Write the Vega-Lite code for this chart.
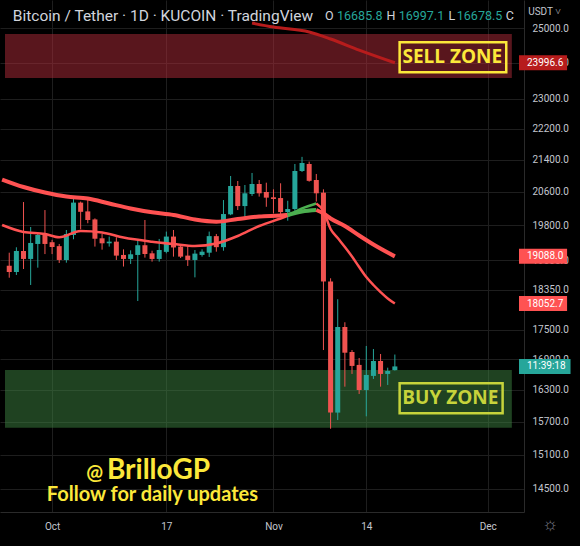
{
  "$schema": "https://vega.github.io/schema/vega-lite/v6.json",
  "width": 524,
  "height": 512,
  "autosize": {"type": "none"},
  "padding": {"left": 0, "top": 0, "right": 56, "bottom": 34},
  "background": "#000000",
  "config": {
    "view": {"stroke": null},
    "axis": {"domainColor": "#2a2a2a", "gridColor": "#1e1e1e", "labelColor": "#c3c6ce", "labelFont": "Roboto", "labelFontSize": 10, "ticks": false, "title": null, "labelOverlap": false}
  },
  "resolve": {"scale": {"fill": "independent", "stroke": "independent", "color": "independent", "size": "independent"}},
  "datasets": {
    "candles": [
      {"d": "2022-09-25", "o": 18876, "h": 19171, "l": 18613, "c": 18740},
      {"d": "2022-09-26", "o": 18740, "h": 19294, "l": 18673, "c": 19210},
      {"d": "2022-09-27", "o": 19210, "h": 20354, "l": 18805, "c": 19030},
      {"d": "2022-09-28", "o": 19030, "h": 19762, "l": 18453, "c": 19393},
      {"d": "2022-09-29", "o": 19370, "h": 19617, "l": 18835, "c": 19577},
      {"d": "2022-09-30", "o": 19577, "h": 20162, "l": 19140, "c": 19370},
      {"d": "2022-10-01", "o": 19410, "h": 19465, "l": 19140, "c": 19300},
      {"d": "2022-10-02", "o": 19320, "h": 19370, "l": 18940, "c": 19007},
      {"d": "2022-10-03", "o": 19007, "h": 19692, "l": 18946, "c": 19600},
      {"d": "2022-10-04", "o": 19577, "h": 20450, "l": 19478, "c": 20340},
      {"d": "2022-10-05", "o": 20340, "h": 20365, "l": 19708, "c": 20120},
      {"d": "2022-10-06", "o": 20130, "h": 20402, "l": 19850, "c": 19926},
      {"d": "2022-10-07", "o": 19940, "h": 19965, "l": 19310, "c": 19490},
      {"d": "2022-10-08", "o": 19500, "h": 19600, "l": 19240, "c": 19385},
      {"d": "2022-10-09", "o": 19385, "h": 19540, "l": 19310, "c": 19423},
      {"d": "2022-10-10", "o": 19423, "h": 19525, "l": 19007, "c": 19105},
      {"d": "2022-10-11", "o": 19120, "h": 19247, "l": 18860, "c": 19030},
      {"d": "2022-10-12", "o": 19030, "h": 19225, "l": 18918, "c": 19135},
      {"d": "2022-10-13", "o": 19120, "h": 19480, "l": 18107, "c": 19341},
      {"d": "2022-10-14", "o": 19341, "h": 19926, "l": 19060, "c": 19142},
      {"d": "2022-10-15", "o": 19157, "h": 19216, "l": 18970, "c": 19030},
      {"d": "2022-10-16", "o": 19030, "h": 19485, "l": 18970, "c": 19232},
      {"d": "2022-10-17", "o": 19190, "h": 19655, "l": 19157, "c": 19540},
      {"d": "2022-10-18", "o": 19540, "h": 19692, "l": 19082, "c": 19290},
      {"d": "2022-10-19", "o": 19310, "h": 19347, "l": 19050, "c": 19082},
      {"d": "2022-10-20", "o": 19105, "h": 19347, "l": 18873, "c": 19007},
      {"d": "2022-10-21", "o": 19007, "h": 19232, "l": 18620, "c": 19150},
      {"d": "2022-10-22", "o": 19120, "h": 19247, "l": 19082, "c": 19194},
      {"d": "2022-10-23", "o": 19171, "h": 19655, "l": 19075, "c": 19550},
      {"d": "2022-10-24", "o": 19550, "h": 19600, "l": 19194, "c": 19297},
      {"d": "2022-10-25", "o": 19297, "h": 20402, "l": 19216, "c": 20067},
      {"d": "2022-10-26", "o": 20060, "h": 20990, "l": 20040, "c": 20743},
      {"d": "2022-10-27", "o": 20743, "h": 20866, "l": 20162, "c": 20257},
      {"d": "2022-10-28", "o": 20257, "h": 20768, "l": 19956, "c": 20565},
      {"d": "2022-10-29", "o": 20548, "h": 21065, "l": 20500, "c": 20793},
      {"d": "2022-10-30", "o": 20793, "h": 20891, "l": 20485, "c": 20565},
      {"d": "2022-10-31", "o": 20597, "h": 20825, "l": 20240, "c": 20460},
      {"d": "2022-11-01", "o": 20468, "h": 20662, "l": 20082, "c": 20428},
      {"d": "2022-11-02", "o": 20450, "h": 20810, "l": 20060, "c": 20114},
      {"d": "2022-11-03", "o": 20114, "h": 20385, "l": 19910, "c": 20186},
      {"d": "2022-11-04", "o": 20186, "h": 21290, "l": 20138, "c": 21114},
      {"d": "2022-11-05", "o": 21114, "h": 21470, "l": 21090, "c": 21315},
      {"d": "2022-11-06", "o": 21290, "h": 21350, "l": 20850, "c": 20870},
      {"d": "2022-11-07", "o": 20891, "h": 21040, "l": 20365, "c": 20565},
      {"d": "2022-11-08", "o": 20580, "h": 20662, "l": 17088, "c": 18530},
      {"d": "2022-11-09", "o": 18530, "h": 18600, "l": 15570, "c": 15870},
      {"d": "2022-11-10", "o": 15870, "h": 18145, "l": 15731, "c": 17560},
      {"d": "2022-11-11", "o": 17560, "h": 17658, "l": 16364, "c": 17034},
      {"d": "2022-11-12", "o": 17048, "h": 17088, "l": 16612, "c": 16770},
      {"d": "2022-11-13", "o": 16790, "h": 16928, "l": 16223, "c": 16300},
      {"d": "2022-11-14", "o": 16300, "h": 17170, "l": 15800, "c": 16592},
      {"d": "2022-11-15", "o": 16573, "h": 17108, "l": 16514, "c": 16868},
      {"d": "2022-11-16", "o": 16868, "h": 17008, "l": 16364, "c": 16612},
      {"d": "2022-11-17", "o": 16612, "h": 16735, "l": 16397, "c": 16670},
      {"d": "2022-11-18", "o": 16685.8, "h": 16997.1, "l": 16678.5, "c": 16760}
    ],
    "ma": [
      {"ma": "ma200", "seg": "m1", "trend": "m", "d": "2022-10-29", "v": 25149},
      {"ma": "ma200", "seg": "m1", "trend": "m", "d": "2022-11-01", "v": 25030},
      {"ma": "ma200", "seg": "m1", "trend": "m", "d": "2022-11-06", "v": 24883},
      {"ma": "ma200", "seg": "m1", "trend": "m", "d": "2022-11-09", "v": 24678},
      {"ma": "ma200", "seg": "m1", "trend": "m", "d": "2022-11-13", "v": 24359},
      {"ma": "ma200", "seg": "m1", "trend": "m", "d": "2022-11-18", "v": 23996.6},
      {"ma": "slow", "seg": "s1", "trend": "dn", "d": "2022-09-24", "v": 20903},
      {"ma": "slow", "seg": "s1", "trend": "dn", "d": "2022-09-27", "v": 20719},
      {"ma": "slow", "seg": "s1", "trend": "dn", "d": "2022-09-30", "v": 20585},
      {"ma": "slow", "seg": "s1", "trend": "dn", "d": "2022-10-03", "v": 20487},
      {"ma": "slow", "seg": "s1", "trend": "dn", "d": "2022-10-06", "v": 20439},
      {"ma": "slow", "seg": "s1", "trend": "dn", "d": "2022-10-09", "v": 20318},
      {"ma": "slow", "seg": "s1", "trend": "dn", "d": "2022-10-12", "v": 20199},
      {"ma": "slow", "seg": "s1", "trend": "dn", "d": "2022-10-15", "v": 20108},
      {"ma": "slow", "seg": "s1", "trend": "dn", "d": "2022-10-18", "v": 20045},
      {"ma": "slow", "seg": "s1", "trend": "dn", "d": "2022-10-21", "v": 19938},
      {"ma": "slow", "seg": "s1", "trend": "dn", "d": "2022-10-24", "v": 19887},
      {"ma": "slow", "seg": "s1", "trend": "dn", "d": "2022-10-27", "v": 19950},
      {"ma": "slow", "seg": "s1", "trend": "dn", "d": "2022-10-30", "v": 20010},
      {"ma": "slow", "seg": "s1", "trend": "dn", "d": "2022-11-02", "v": 20032},
      {"ma": "slow", "seg": "s1", "trend": "dn", "d": "2022-11-03", "v": 20045},
      {"ma": "slow", "seg": "s2", "trend": "up", "d": "2022-11-03", "v": 20045},
      {"ma": "slow", "seg": "s2", "trend": "up", "d": "2022-11-05", "v": 20127},
      {"ma": "slow", "seg": "s2", "trend": "up", "d": "2022-11-07", "v": 20163},
      {"ma": "slow", "seg": "s3", "trend": "dn", "d": "2022-11-07", "v": 20163},
      {"ma": "slow", "seg": "s3", "trend": "dn", "d": "2022-11-08", "v": 20080},
      {"ma": "slow", "seg": "s3", "trend": "dn", "d": "2022-11-09", "v": 19962},
      {"ma": "slow", "seg": "s3", "trend": "dn", "d": "2022-11-11", "v": 19786},
      {"ma": "slow", "seg": "s3", "trend": "dn", "d": "2022-11-13", "v": 19565},
      {"ma": "slow", "seg": "s3", "trend": "dn", "d": "2022-11-15", "v": 19358},
      {"ma": "slow", "seg": "s3", "trend": "dn", "d": "2022-11-18", "v": 19088},
      {"ma": "fast", "seg": "f1", "trend": "dn", "d": "2022-09-24", "v": 19809},
      {"ma": "fast", "seg": "f1", "trend": "dn", "d": "2022-09-27", "v": 19646},
      {"ma": "fast", "seg": "f1", "trend": "dn", "d": "2022-09-30", "v": 19600},
      {"ma": "fast", "seg": "f1", "trend": "dn", "d": "2022-10-02", "v": 19523},
      {"ma": "fast", "seg": "f1", "trend": "dn", "d": "2022-10-05", "v": 19669},
      {"ma": "fast", "seg": "f1", "trend": "dn", "d": "2022-10-08", "v": 19634},
      {"ma": "fast", "seg": "f1", "trend": "dn", "d": "2022-10-11", "v": 19518},
      {"ma": "fast", "seg": "f1", "trend": "dn", "d": "2022-10-15", "v": 19422},
      {"ma": "fast", "seg": "f1", "trend": "dn", "d": "2022-10-18", "v": 19369},
      {"ma": "fast", "seg": "f1", "trend": "dn", "d": "2022-10-21", "v": 19324},
      {"ma": "fast", "seg": "f1", "trend": "dn", "d": "2022-10-24", "v": 19381},
      {"ma": "fast", "seg": "f1", "trend": "dn", "d": "2022-10-27", "v": 19553},
      {"ma": "fast", "seg": "f1", "trend": "dn", "d": "2022-10-30", "v": 19786},
      {"ma": "fast", "seg": "f1", "trend": "dn", "d": "2022-11-02", "v": 19962},
      {"ma": "fast", "seg": "f1", "trend": "dn", "d": "2022-11-03", "v": 20022},
      {"ma": "fast", "seg": "f2", "trend": "up", "d": "2022-11-03", "v": 20022},
      {"ma": "fast", "seg": "f2", "trend": "up", "d": "2022-11-05", "v": 20199},
      {"ma": "fast", "seg": "f2", "trend": "up", "d": "2022-11-07", "v": 20318},
      {"ma": "fast", "seg": "f3", "trend": "dn", "d": "2022-11-07", "v": 20318},
      {"ma": "fast", "seg": "f3", "trend": "dn", "d": "2022-11-08", "v": 20139},
      {"ma": "fast", "seg": "f3", "trend": "dn", "d": "2022-11-09", "v": 19716},
      {"ma": "fast", "seg": "f3", "trend": "dn", "d": "2022-11-10", "v": 19507},
      {"ma": "fast", "seg": "f3", "trend": "dn", "d": "2022-11-11", "v": 19301},
      {"ma": "fast", "seg": "f3", "trend": "dn", "d": "2022-11-12", "v": 19085},
      {"ma": "fast", "seg": "f3", "trend": "dn", "d": "2022-11-13", "v": 18850},
      {"ma": "fast", "seg": "f3", "trend": "dn", "d": "2022-11-14", "v": 18628},
      {"ma": "fast", "seg": "f3", "trend": "dn", "d": "2022-11-15", "v": 18453},
      {"ma": "fast", "seg": "f3", "trend": "dn", "d": "2022-11-16", "v": 18300},
      {"ma": "fast", "seg": "f3", "trend": "dn", "d": "2022-11-17", "v": 18161},
      {"ma": "fast", "seg": "f3", "trend": "dn", "d": "2022-11-18", "v": 18052.7}
    ],
    "zones": [
      {"z": "sell", "d": "2022-09-24T09:45:00Z", "d2": "2022-12-04T09:10:00Z", "v": 24825, "v2": 23567},
      {"z": "buy", "d": "2022-09-24T09:45:00Z", "d2": "2022-12-04T09:10:00Z", "v": 16690, "v2": 15589}
    ],
    "boxes": [
      {"z": "sell", "d": "2022-11-18T16:02:00Z", "d2": "2022-12-03T14:23:00Z", "v": 24582, "v2": 23727},
      {"z": "buy", "d": "2022-11-18T16:02:00Z", "d2": "2022-12-03T02:11:00Z", "v": 16429, "v2": 15857}
    ],
    "zonelabels": [
      {"z": "sell", "t": "SELL ZONE", "d": "2022-11-26T01:03:00Z", "v": 24159},
      {"z": "buy", "t": "BUY ZONE", "d": "2022-11-25T18:27:00Z", "v": 16137}
    ],
    "tags": [
      {"k": "ma200", "t": "23996.6", "d": "2022-12-05T09:14:00Z", "d2": "2022-12-12T02:50:00Z", "v": 23996.6},
      {"k": "ma", "t": "19088.0", "d": "2022-12-05T09:14:00Z", "d2": "2022-12-12T02:50:00Z", "v": 19088},
      {"k": "ma", "t": "18052.7", "d": "2022-12-05T09:14:00Z", "d2": "2022-12-12T02:50:00Z", "v": 18052.7},
      {"k": "cur", "t": "11:39:18", "d": "2022-12-05T09:14:00Z", "d2": "2022-12-12T14:25:00Z", "v": 16760}
    ],
    "header": [
      {"k": "lab", "t": "O", "d": "2022-11-08T05:28:00Z", "v": 25358},
      {"k": "num", "t": "16685.8", "d": "2022-11-09T21:42:00Z", "v": 25358},
      {"k": "lab", "t": "H", "d": "2022-11-16T20:11:00Z", "v": 25358},
      {"k": "num", "t": "16997.1", "d": "2022-11-18T13:03:00Z", "v": 25358},
      {"k": "lab", "t": "L", "d": "2022-11-25T11:53:00Z", "v": 25358},
      {"k": "num", "t": "16678.5", "d": "2022-11-26T16:13:00Z", "v": 25358},
      {"k": "lab", "t": "C", "d": "2022-12-03T12:43:00Z", "v": 25358}
    ],
    "title": [
      {"t": "Bitcoin / Tether · 1D · KUCOIN · TradingView", "d": "2022-09-25T12:07:00Z", "v": 25358}
    ],
    "brand": [
      {"k": "at", "t": "@", "d": "2022-10-06T23:24:00Z", "v": 14672},
      {"k": "name", "t": "BrilloGP", "d": "2022-10-15T21:42:00Z", "v": 14672}
    ],
    "follow": [
      {"t": "Follow for daily updates", "d": "2022-10-15T01:15:00Z", "v": 14301}
    ],
    "misc": [
      {"k": "usdt", "t": "USDT ˅", "d": "2022-12-08T23:00:00Z", "v": 25478},
      {"k": "gear", "t": "☼", "d": "2022-12-09T18:00:00Z", "v": 13896}
    ]
  },
  "layer": [
    {
      "data": {"name": "zones"},
      "mark": {"type": "rect", "opacity": 0.5},
      "encoding": {
        "x": {"field": "d", "type": "temporal", "title": null,
          "scale": {"type": "utc", "domain": [{"year": 2022, "month": 9, "date": 24, "hours": 9, "minutes": 45, "utc": true}, {"year": 2022, "month": 12, "date": 5, "hours": 9, "minutes": 14, "utc": true}]},
          "axis": {"orient": "bottom", "grid": true, "labelPadding": 9, "labelFontSize": 10,
            "values": [{"year": 2022, "month": 10, "date": 1, "utc": true}, {"year": 2022, "month": 10, "date": 17, "utc": true}, {"year": 2022, "month": 11, "date": 1, "utc": true}, {"year": 2022, "month": 11, "date": 14, "utc": true}, {"year": 2022, "month": 12, "date": 1, "utc": true}],
            "labelExpr": "utcdate(datum.value) == 1 ? utcFormat(datum.value, '%b') : utcFormat(datum.value, '%-d')"}},
        "x2": {"field": "d2"},
        "y": {"field": "v", "type": "quantitative", "title": null,
          "scale": {"type": "log", "domain": [14111, 25843], "nice": false, "zero": false},
          "axis": {"orient": "right", "grid": true, "format": ".1f", "labelPadding": 8, "labelAlign": "left",
            "values": [25000, 24000, 23000, 22200, 21400, 20600, 19800, 19000, 18350, 17500, 16900, 16300, 15700, 15100, 14500]}},
        "y2": {"field": "v2"},
        "fill": {"field": "z", "type": "nominal", "scale": {"domain": ["sell", "buy"], "range": ["#b22c3a", "#3e8441"]}, "legend": null}
      }
    },
    {
      "data": {"name": "candles"},
      "mark": {"type": "rule", "strokeWidth": 1},
      "encoding": {
        "x": {"field": "d", "type": "temporal"},
        "y": {"field": "l", "type": "quantitative"},
        "y2": {"field": "h"},
        "color": {"condition": {"test": "datum.c >= datum.o", "value": "#26a69a"}, "value": "#ef5350"}
      }
    },
    {
      "data": {"name": "candles"},
      "mark": {"type": "bar", "width": 5},
      "encoding": {
        "x": {"field": "d", "type": "temporal"},
        "y": {"field": "o", "type": "quantitative"},
        "y2": {"field": "c"},
        "color": {"condition": {"test": "datum.c >= datum.o", "value": "#26a69a"}, "value": "#ef5350"}
      }
    },
    {
      "data": {"name": "ma"},
      "transform": [{"filter": "datum.ma == 'ma200'"}],
      "mark": {"type": "line", "strokeWidth": 3, "color": "#b71c1c", "clip": true, "interpolate": "monotone"},
      "encoding": {
        "x": {"field": "d", "type": "temporal"},
        "y": {"field": "v", "type": "quantitative"}
      }
    },
    {
      "data": {"name": "ma"},
      "transform": [{"filter": "datum.ma == 'slow'"}],
      "mark": {"type": "line", "strokeWidth": 4, "clip": true, "interpolate": "monotone"},
      "encoding": {
        "x": {"field": "d", "type": "temporal"},
        "y": {"field": "v", "type": "quantitative"},
        "detail": {"field": "seg"},
        "stroke": {"field": "trend", "type": "nominal", "scale": {"domain": ["dn", "up"], "range": ["#ff5252", "#4caf50"]}, "legend": null}
      }
    },
    {
      "data": {"name": "ma"},
      "transform": [{"filter": "datum.ma == 'fast'"}],
      "mark": {"type": "line", "strokeWidth": 2.5, "clip": true, "interpolate": "monotone"},
      "encoding": {
        "x": {"field": "d", "type": "temporal"},
        "y": {"field": "v", "type": "quantitative"},
        "detail": {"field": "seg"},
        "stroke": {"field": "trend", "type": "nominal", "scale": {"domain": ["dn", "up"], "range": ["#ff5252", "#4caf50"]}, "legend": null}
      }
    },
    {
      "data": {"name": "boxes"},
      "mark": {"type": "rect", "fillOpacity": 0, "strokeWidth": 2.5},
      "encoding": {
        "x": {"field": "d", "type": "temporal"},
        "x2": {"field": "d2"},
        "y": {"field": "v", "type": "quantitative"},
        "y2": {"field": "v2"},
        "stroke": {"field": "z", "type": "nominal", "scale": {"domain": ["sell", "buy"], "range": ["#fce83a", "#c6d33b"]}, "legend": null}
      }
    },
    {
      "data": {"name": "zonelabels"},
      "mark": {"type": "text", "font": "Open Sans", "fontWeight": "bold", "fontSize": 19, "align": "center", "baseline": "middle"},
      "encoding": {
        "x": {"field": "d", "type": "temporal"},
        "y": {"field": "v", "type": "quantitative"},
        "text": {"field": "t"},
        "color": {"field": "z", "type": "nominal", "scale": {"domain": ["sell", "buy"], "range": ["#fce83a", "#c6d33b"]}, "legend": null}
      }
    },
    {
      "data": {"name": "brand"},
      "mark": {"type": "text", "font": "Lato", "fontWeight": "bold", "align": "center", "baseline": "alphabetic", "color": "#fce83a"},
      "encoding": {
        "x": {"field": "d", "type": "temporal"},
        "y": {"field": "v", "type": "quantitative"},
        "text": {"field": "t"},
        "size": {"field": "k", "type": "nominal", "scale": {"domain": ["at", "name"], "range": [20, 28]}, "legend": null}
      }
    },
    {
      "data": {"name": "follow"},
      "mark": {"type": "text", "font": "Lato", "fontWeight": "bold", "fontSize": 20, "align": "center", "baseline": "alphabetic", "color": "#fce83a"},
      "encoding": {
        "x": {"field": "d", "type": "temporal"},
        "y": {"field": "v", "type": "quantitative"},
        "text": {"field": "t"}
      }
    },
    {
      "data": {"name": "title"},
      "mark": {"type": "text", "font": "Roboto", "fontSize": 15.5, "align": "left", "baseline": "middle", "color": "#d1d4dc"},
      "encoding": {
        "x": {"field": "d", "type": "temporal"},
        "y": {"field": "v", "type": "quantitative"},
        "text": {"field": "t"}
      }
    },
    {
      "data": {"name": "header"},
      "mark": {"type": "text", "font": "Roboto", "fontSize": 12.5, "align": "left", "baseline": "middle"},
      "encoding": {
        "x": {"field": "d", "type": "temporal"},
        "y": {"field": "v", "type": "quantitative"},
        "text": {"field": "t"},
        "color": {"field": "k", "type": "nominal", "scale": {"domain": ["lab", "num"], "range": ["#d1d4dc", "#26a69a"]}, "legend": null}
      }
    },
    {
      "data": {"name": "tags"},
      "mark": {"type": "rect", "height": 15},
      "encoding": {
        "x": {"field": "d", "type": "temporal"},
        "x2": {"field": "d2"},
        "y": {"field": "v", "type": "quantitative"},
        "fill": {"field": "k", "type": "nominal", "scale": {"domain": ["ma200", "ma", "cur"], "range": ["#b71c1c", "#ff5252", "#26a69a"]}, "legend": null}
      }
    },
    {
      "data": {"name": "tags"},
      "mark": {"type": "text", "font": "Roboto", "fontSize": 10, "align": "left", "baseline": "middle", "dx": 8, "color": "#ffffff"},
      "encoding": {
        "x": {"field": "d", "type": "temporal"},
        "y": {"field": "v", "type": "quantitative"},
        "text": {"field": "t"}
      }
    },
    {
      "data": {"name": "misc"},
      "mark": {"type": "text", "font": "Roboto", "align": "center", "baseline": "middle"},
      "encoding": {
        "x": {"field": "d", "type": "temporal"},
        "y": {"field": "v", "type": "quantitative"},
        "text": {"field": "t"},
        "size": {"field": "k", "type": "nominal", "scale": {"domain": ["usdt", "gear"], "range": [10, 18]}, "legend": null},
        "color": {"field": "k", "type": "nominal", "scale": {"domain": ["usdt", "gear"], "range": ["#c3c6ce", "#787b86"]}, "legend": null}
      }
    }
  ]
}
